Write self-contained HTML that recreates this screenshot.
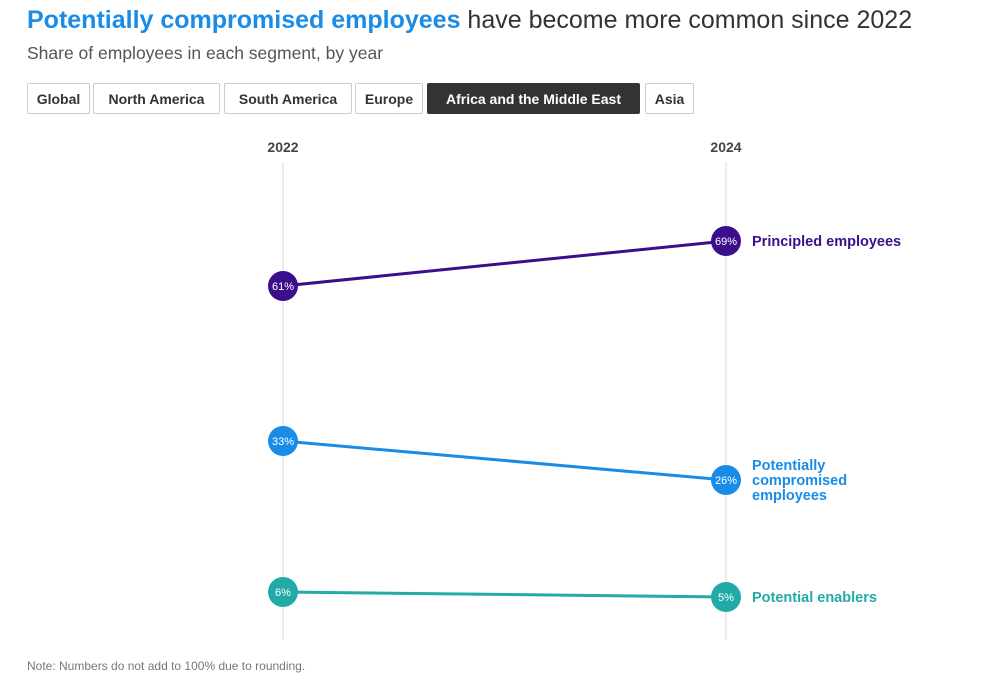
<!DOCTYPE html>
<html><head><style>
body{margin:0;width:1006px;height:690px;background:#fff;font-family:"Liberation Sans",sans-serif;position:relative;overflow:hidden}
.t{position:absolute;left:27px;top:6px;font-size:25px;color:#333;white-space:nowrap}
.t b{color:#1a8ce6}
.s{position:absolute;left:27px;top:43px;font-size:17.5px;color:#555}
.btn{position:absolute;top:83px;height:31px;line-height:31px;border:1px solid #ccc;border-radius:2px;font-size:14px;font-weight:bold;color:#333;text-align:center;box-sizing:border-box}
.on{background:#333;color:#fff;border-color:#333}
.n{position:absolute;left:27px;top:659px;font-size:12px;color:#777}
</style></head><body>
<div class="t"><b>Potentially compromised employees</b> have become more common since 2022</div>
<div class="s">Share of employees in each segment, by year</div>
<div class="btn" style="left:27px;width:63px">Global</div>
<div class="btn" style="left:93px;width:127px">North America</div>
<div class="btn" style="left:224px;width:128px">South America</div>
<div class="btn" style="left:355px;width:68px">Europe</div>
<div class="btn on" style="left:427px;width:213px">Africa and the Middle East</div>
<div class="btn" style="left:645px;width:49px">Asia</div>
<svg width="1006" height="690" style="position:absolute;left:0;top:0" font-family="Liberation Sans, sans-serif">
<text x="283" y="152" text-anchor="middle" font-size="14" font-weight="bold" fill="#444">2022</text>
<text x="726" y="152" text-anchor="middle" font-size="14" font-weight="bold" fill="#444">2024</text>
<line x1="283" y1="162" x2="283" y2="640" stroke="#ececec" stroke-width="2"/>
<line x1="726" y1="162" x2="726" y2="640" stroke="#ececec" stroke-width="2"/>
<line x1="283" y1="286" x2="726" y2="241" stroke="#3b0f8c" stroke-width="3"/>
<line x1="283" y1="441" x2="726" y2="480" stroke="#1a8ce6" stroke-width="3"/>
<line x1="283" y1="592" x2="726" y2="597" stroke="#22aaa8" stroke-width="3"/>
<g font-size="11" fill="#fff" text-anchor="middle">
<circle cx="283" cy="286" r="15" fill="#3b0f8c"/><text x="283" y="290">61%</text>
<circle cx="726" cy="241" r="15" fill="#3b0f8c"/><text x="726" y="245">69%</text>
<circle cx="283" cy="441" r="15" fill="#1a8ce6"/><text x="283" y="445">33%</text>
<circle cx="726" cy="480" r="15" fill="#1a8ce6"/><text x="726" y="484">26%</text>
<circle cx="283" cy="592" r="15" fill="#22aaa8"/><text x="283" y="596">6%</text>
<circle cx="726" cy="597" r="15" fill="#22aaa8"/><text x="726" y="601">5%</text>
</g>
<g font-size="14.5" font-weight="bold">
<text x="752" y="246" fill="#3b0f8c">Principled employees</text>
<text x="752" y="470" fill="#1a8ce6">Potentially</text>
<text x="752" y="485" fill="#1a8ce6">compromised</text>
<text x="752" y="500" fill="#1a8ce6">employees</text>
<text x="752" y="602" fill="#22aaa8">Potential enablers</text>
</g>
</svg>
<div class="n">Note: Numbers do not add to 100% due to rounding.</div>
</body></html>
